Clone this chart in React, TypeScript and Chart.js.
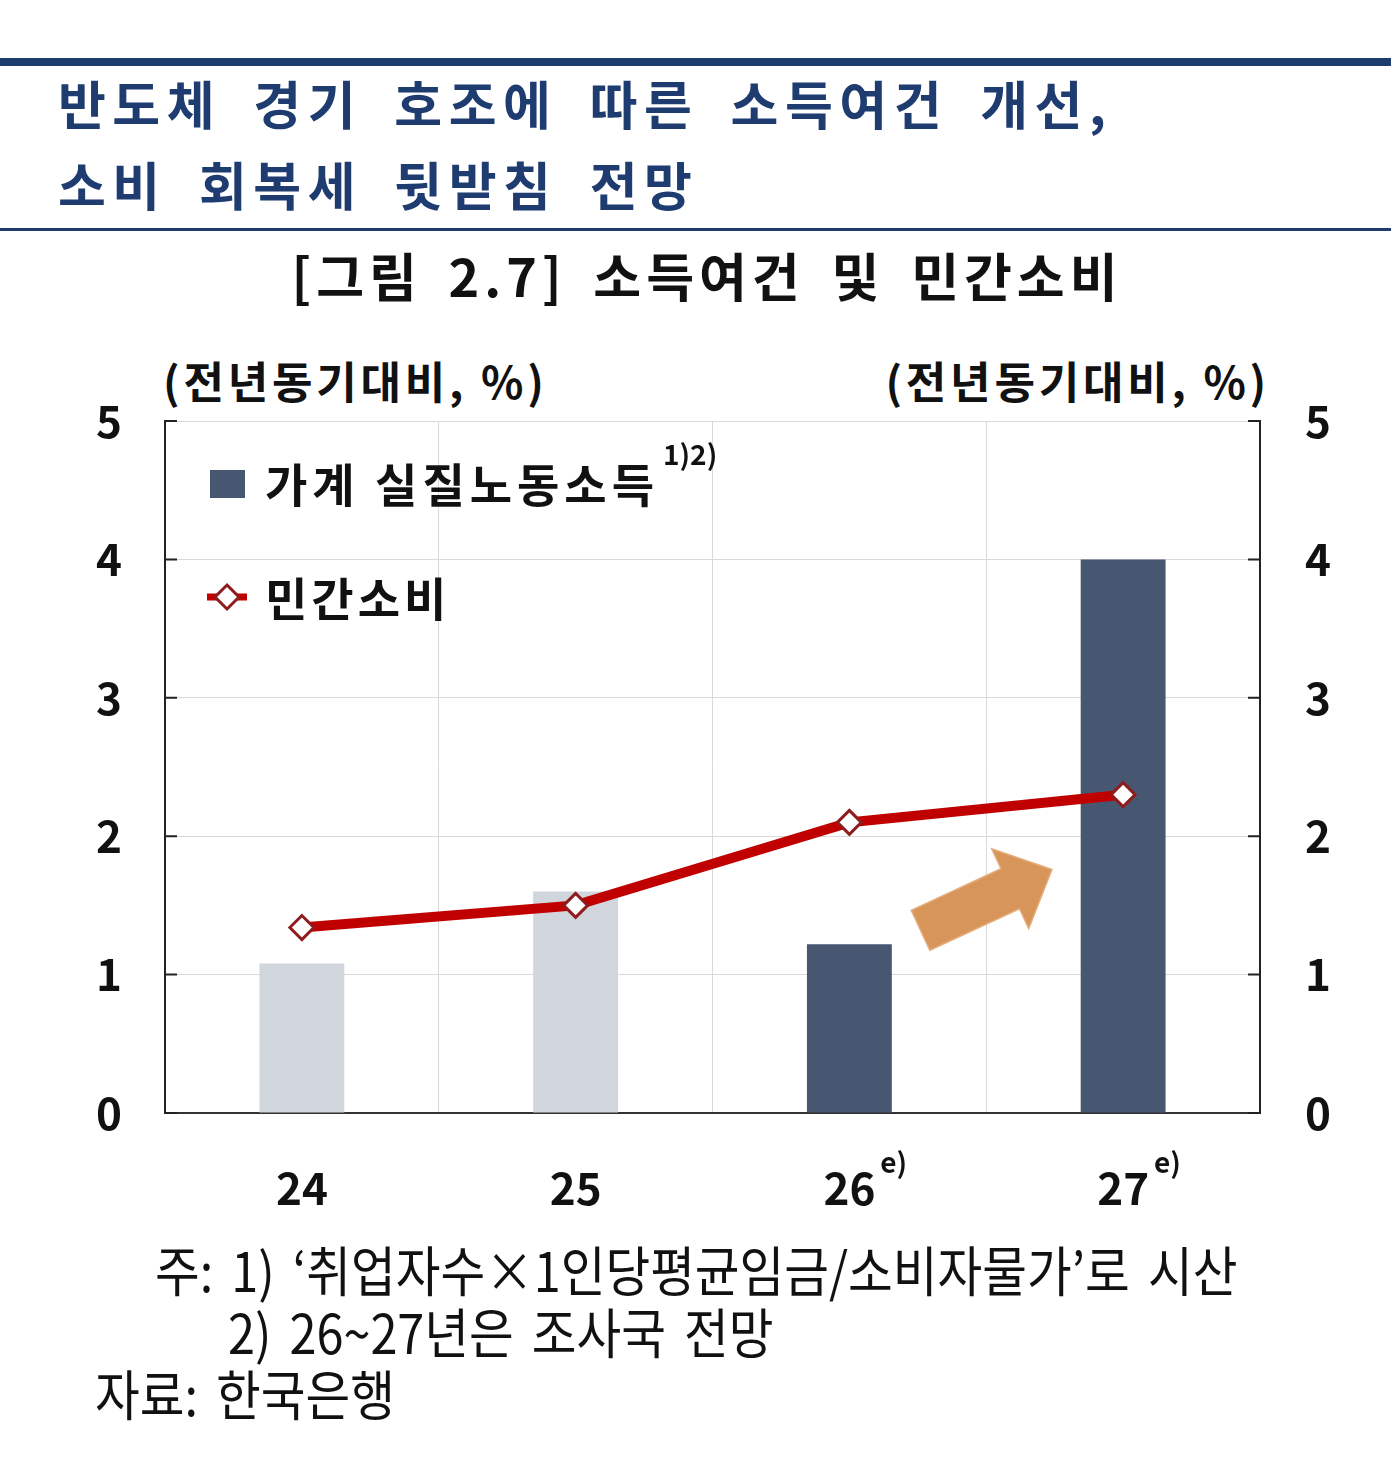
import { useEffect, useRef } from "react";
import { Chart, registerables } from "chart.js";

Chart.register(...registerables);

const FONT = "'Noto Sans CJK KR', 'Noto Sans', sans-serif";

// chart values
const years = ["24", "25", "26", "27"];
const yearMarks = ["", "", "e)", "e)"];
const laborIncome = [1.08, 1.6, 1.22, 4.0];
const consumption = [1.34, 1.5, 2.1, 2.3];
const barColors = ["#d1d5dc", "#d1d5dc", "#475671", "#475671"];
const yTicks = [0, 1, 2, 3, 4, 5];

// trend arrow, in (category index, %) units
const arrowFrom = { x: 2.26, y: 1.32 };
const arrowTo = { x: 2.74, y: 1.76 };

const incomeLabel = "가계 실질노동소득";
const incomeNote = "1)2)";
const consumptionLabel = "민간소비";

const decorPlugin = {
  id: "decor",
  afterDatasetsDraw(chart: any) {
    const { ctx, scales } = chart;
    const xs = scales.x;
    const ys = scales.y;
    const x0 = xs.getPixelForValue(arrowFrom.x);
    const y0 = ys.getPixelForValue(arrowFrom.y);
    const x1 = xs.getPixelForValue(arrowTo.x);
    const y1 = ys.getPixelForValue(arrowTo.y);
    const len = Math.hypot(x1 - x0, y1 - y0);
    const ux = (x1 - x0) / len;
    const uy = (y1 - y0) / len;
    const nx = -uy;
    const ny = ux;
    const shaft = 22;
    const head = 44;
    const headLen = 46;
    const bx = x1 - ux * headLen;
    const by = y1 - uy * headLen;
    ctx.save();
    ctx.beginPath();
    ctx.moveTo(x0 + nx * shaft, y0 + ny * shaft);
    ctx.lineTo(bx + nx * shaft, by + ny * shaft);
    ctx.lineTo(bx + nx * head, by + ny * head);
    ctx.lineTo(x1, y1);
    ctx.lineTo(bx - nx * head, by - ny * head);
    ctx.lineTo(bx - nx * shaft, by - ny * shaft);
    ctx.lineTo(x0 - nx * shaft, y0 - ny * shaft);
    ctx.closePath();
    ctx.fillStyle = "#d8955a";
    ctx.fill();
    ctx.strokeStyle = "#e3ad7c";
    ctx.lineWidth = 1.5;
    ctx.stroke();
    ctx.restore();
  },
  afterDraw(chart: any) {
    const { ctx, scales, chartArea } = chart;
    const xs = scales.x;
    const ys = scales.y;
    ctx.save();

    // inward tick marks on both value axes
    ctx.strokeStyle = "#222";
    ctx.lineWidth = 2;
    yTicks.forEach((v) => {
      const y = ys.getPixelForValue(v);
      ctx.beginPath();
      ctx.moveTo(chartArea.left, y);
      ctx.lineTo(chartArea.left + 12, y);
      ctx.moveTo(chartArea.right, y);
      ctx.lineTo(chartArea.right - 12, y);
      ctx.stroke();
    });

    // "e)" marks next to the year labels
    ctx.fillStyle = "#111";
    ctx.textBaseline = "middle";
    const labelY = xs.top + 49 + 44 * 0.6;
    years.forEach((yr, i) => {
      if (!yearMarks[i]) return;
      ctx.font = `bold 44px ${FONT}`;
      const w = ctx.measureText(yr).width;
      const x = xs.getPixelForValue(i) + w / 2 + 5;
      ctx.font = `bold 28px ${FONT}`;
      ctx.textAlign = "left";
      ctx.fillText(yearMarks[i], x, labelY - 26);
    });

    // legend
    const lx = chartArea.left;
    const ty = chartArea.top;
    ctx.fillStyle = barColors[3];
    ctx.fillRect(lx + 45, ty + 49, 35, 28);
    ctx.fillStyle = "#111";
    ctx.textAlign = "left";
    ctx.font = `bold 46px ${FONT}`;
    ctx.letterSpacing = "5px";
    ctx.fillText(incomeLabel, lx + 100, ty + 64);
    const w1 = ctx.measureText(incomeLabel).width;
    ctx.letterSpacing = "0px";
    ctx.font = `bold 28px ${FONT}`;
    ctx.fillText(incomeNote, lx + 100 + w1 + 4, ty + 33);

    const my = ty + 176;
    ctx.strokeStyle = "#c00000";
    ctx.lineWidth = 7;
    ctx.beginPath();
    ctx.moveTo(lx + 42, my);
    ctx.lineTo(lx + 82, my);
    ctx.stroke();
    ctx.beginPath();
    ctx.moveTo(lx + 62, my - 12);
    ctx.lineTo(lx + 74, my);
    ctx.lineTo(lx + 62, my + 12);
    ctx.lineTo(lx + 50, my);
    ctx.closePath();
    ctx.fillStyle = "#ffffff";
    ctx.fill();
    ctx.strokeStyle = "#8e1c1c";
    ctx.lineWidth = 3;
    ctx.stroke();
    ctx.fillStyle = "#111";
    ctx.font = `bold 46px ${FONT}`;
    ctx.letterSpacing = "4px";
    ctx.fillText(consumptionLabel, lx + 100, my + 2);

    ctx.restore();
  },
};

const IncomeChart = () => {
  const canvasRef = useRef<HTMLCanvasElement>(null);

  useEffect(() => {
    const ctx = canvasRef.current?.getContext("2d");
    if (!ctx) return;

    const tickFont = { family: FONT, size: 44, weight: "bold" as const };

    const chart = new Chart(ctx, {
      type: "bar",
      data: {
        labels: years,
        datasets: [
          {
            type: "line",
            label: consumptionLabel,
            data: consumption,
            borderColor: "#c00000",
            borderWidth: 10,
            pointStyle: "rectRot",
            pointRadius: 12,
            pointBackgroundColor: "#ffffff",
            pointBorderColor: "#8e1c1c",
            pointBorderWidth: 3,
            yAxisID: "y",
            order: 1,
          },
          {
            type: "bar",
            label: incomeLabel,
            data: laborIncome,
            backgroundColor: barColors,
            barPercentage: 0.31,
            categoryPercentage: 1,
            yAxisID: "y",
            order: 2,
          },
        ],
      },
      options: {
        responsive: true,
        maintainAspectRatio: false,
        animation: false,
        layout: { padding: { top: 91, left: 0, right: 0, bottom: 0 } },
        plugins: {
          legend: { display: false },
          tooltip: { enabled: false },
        },
        scales: {
          x: {
            offset: true,
            grid: { offset: true, color: "#d9d9d9", lineWidth: 1, drawTicks: false },
            border: { display: true, color: "#333", width: 2 },
            ticks: { padding: 49, color: "#111", font: tickFont },
            afterFit: (s: any) => {
              s.height = 117;
            },
          },
          y: {
            position: "left",
            min: 0,
            max: 5,
            ticks: { stepSize: 1, padding: 43, color: "#111", font: tickFont },
            grid: { color: "#d9d9d9", lineWidth: 1, drawTicks: false },
            border: { display: true, color: "#222", width: 2 },
            afterFit: (s: any) => {
              s.width = 165;
            },
          },
          y2: {
            position: "right",
            min: 0,
            max: 5,
            ticks: { stepSize: 1, padding: 45, color: "#111", font: tickFont },
            grid: { display: false, drawTicks: false },
            border: { display: true, color: "#222", width: 2 },
            afterFit: (s: any) => {
              s.width = 140;
            },
          },
        },
      },
      plugins: [decorPlugin],
    });

    return () => {
      chart.destroy();
    };
  }, []);

  return (
    <div style={{ position: "absolute", left: 0, top: 330, width: 1400, height: 900 }}>
      <canvas ref={canvasRef}></canvas>
    </div>
  );
};

const navy = "#1f3c70";

const headStyle = {
  position: "absolute" as const,
  left: 58,
  fontSize: 52,
  lineHeight: 1,
  fontWeight: 700,
  color: navy,
  letterSpacing: 6.5,
  wordSpacing: 14,
  whiteSpace: "pre" as const,
};

const unitStyle = {
  position: "absolute" as const,
  top: 358,
  fontSize: 44,
  lineHeight: 1,
  fontWeight: 700,
  color: "#111",
  letterSpacing: 3.8,
  whiteSpace: "pre" as const,
};

const App = () => {
  return (
    <div
      style={{
        position: "absolute",
        left: 0,
        top: 0,
        width: 1400,
        height: 1475,
        background: "#fff",
        fontFamily: FONT,
        overflow: "hidden",
      }}
    >
      <div style={{ position: "absolute", left: 0, top: 58, width: 1391, height: 8, background: navy }} />
      <div style={{ ...headStyle, top: 77 }}>반도체 경기 호조에 따른 소득여건 개선,</div>
      <div style={{ ...headStyle, top: 158 }}>소비 회복세 뒷받침 전망</div>
      <div style={{ position: "absolute", left: 0, top: 228, width: 1391, height: 3, background: navy }} />
      <div
        style={{
          position: "absolute",
          left: 0,
          width: 1400,
          top: 249,
          textAlign: "center",
          paddingLeft: 14,
          boxSizing: "border-box",
          fontSize: 52,
          lineHeight: 1,
          fontWeight: 700,
          color: "#111",
          letterSpacing: 5,
          wordSpacing: 10,
          whiteSpace: "pre",
        }}
      >
        [그림 2.7] 소득여건 및 민간소비
      </div>
      <div style={{ ...unitStyle, left: 163 }}>(전년동기대비, %)</div>
      <div style={{ ...unitStyle, right: 1400 - 1266 - 4 }}>(전년동기대비, %)</div>
      <IncomeChart />
      <div
        style={{
          position: "absolute",
          left: 0,
          top: 1238,
          fontSize: 54,
          lineHeight: "62px",
          color: "#111",
          whiteSpace: "pre",
          wordSpacing: 8,
          transform: "scaleX(0.9)",
          transformOrigin: "0 0",
        }}
      >
        <div style={{ paddingLeft: 155 / 0.9 }}>주: 1) ‘취업자수×1인당평균임금/소비자물가’로 시산</div>
        <div style={{ paddingLeft: 228 / 0.9 }}>2) 26~27년은 조사국 전망</div>
        <div style={{ paddingLeft: 95 / 0.9 }}>자료: 한국은행</div>
      </div>
    </div>
  );
};

export default App;
